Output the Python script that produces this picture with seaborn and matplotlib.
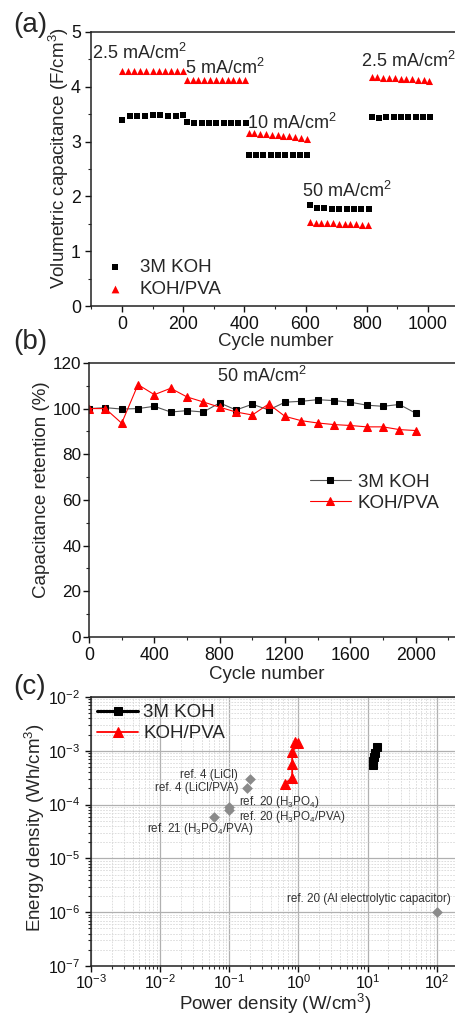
import numpy as np
import matplotlib
matplotlib.use("Agg")
import matplotlib.pyplot as plt
import matplotlib.ticker as mticker
import seaborn as sns

# ===== (a) rate capability =====
cyc_koh = [0, 25, 50, 75, 100, 125, 150, 175, 200,
           212, 236, 260, 284, 308, 332, 356, 380, 404,
           414, 438, 462, 486, 510, 534, 558, 582, 606,
           614, 638, 662, 686, 710, 734, 758, 782, 806,
           816, 840, 864, 888, 912, 936, 960, 984, 1006]
cap_koh = [3.40, 3.46, 3.47, 3.47, 3.48, 3.48, 3.47, 3.47, 3.48,
           3.35, 3.34, 3.34, 3.34, 3.34, 3.34, 3.34, 3.34, 3.34,
           2.75, 2.75, 2.75, 2.75, 2.75, 2.76, 2.76, 2.76, 2.76,
           1.85, 1.79, 1.78, 1.77, 1.77, 1.77, 1.77, 1.77, 1.77,
           3.45, 3.43, 3.44, 3.45, 3.44, 3.44, 3.44, 3.44, 3.44]

cyc_pva = [0, 20, 40, 60, 80, 100, 120, 140, 160, 180, 200,
           212, 231, 250, 269, 288, 307, 326, 345, 364, 383, 402,
           414, 433, 452, 471, 490, 509, 528, 547, 566, 585, 604,
           614, 633, 652, 671, 690, 709, 728, 747, 766, 785, 804,
           816, 835, 854, 873, 892, 911, 930, 949, 968, 987, 1004]
cap_pva = [4.29, 4.29, 4.29, 4.29, 4.29, 4.29, 4.29, 4.29, 4.29, 4.29, 4.29,
           4.13, 4.13, 4.13, 4.13, 4.13, 4.13, 4.13, 4.13, 4.13, 4.13, 4.13,
           3.16, 3.15, 3.14, 3.13, 3.12, 3.12, 3.11, 3.10, 3.09, 3.07, 3.04,
           1.53, 1.52, 1.52, 1.51, 1.51, 1.50, 1.50, 1.49, 1.49, 1.48, 1.47,
           4.17, 4.17, 4.16, 4.16, 4.16, 4.15, 4.15, 4.14, 4.12, 4.12, 4.10]

rate_labels = ["2.5 mA/cm$^2$", "5 mA/cm$^2$", "10 mA/cm$^2$", "50 mA/cm$^2$", "2.5 mA/cm$^2$"]
rate_x = [-97, 207, 410, 590, 782]
rate_y = [4.62, 4.34, 3.34, 2.10, 4.47]

# ===== (b) cycling at 50 mA/cm2 =====
cyc_b = [0, 100, 200, 300, 400, 500, 600, 700, 800, 900, 1000,
         1100, 1200, 1300, 1400, 1500, 1600, 1700, 1800, 1900, 2000]
ret_koh = [100.0, 100.4, 99.8, 100.0, 101.0, 98.5, 99.1, 98.5, 102.5, 99.4, 101.9,
           99.4, 102.8, 103.2, 103.9, 103.5, 102.8, 101.5, 101.0, 101.8, 98.0]
ret_pva = [100.0, 100.0, 93.6, 110.5, 106.1, 108.9, 105.1, 102.9, 100.6, 98.5, 97.2,
           102.0, 96.6, 94.7, 93.7, 93.0, 92.6, 92.0, 92.0, 90.8, 90.4]
b_ticks = [0, 400, 800, 1200, 1600, 2000]

# ===== (c) Ragone =====
pow_koh = [11.8, 12.0, 12.3, 12.6, 13.7]
en_koh = [5.5e-4, 6.5e-4, 7.6e-4, 9.2e-4, 1.19e-3]
pow_pva = [0.63, 0.81, 0.81, 0.81, 0.97, 0.90]
en_pva = [2.45e-4, 3.1e-4, 5.7e-4, 9.4e-4, 1.40e-3, 1.48e-3]

ref_pow = [0.20, 0.18, 0.10, 0.10, 0.06, 100.0]
ref_en = [3.0e-4, 2.0e-4, 9.0e-5, 8.0e-5, 6.0e-5, 1.0e-6]
ref_text = ["ref. 4 (LiCl)", "ref. 4 (LiCl/PVA)", "ref. 20 (H$_3$PO$_4$)",
            "ref. 20 (H$_3$PO$_4$/PVA)", "ref. 21 (H$_3$PO$_4$/PVA)",
            "ref. 20 (Al electrolytic capacitor)"]
ref_tx = [0.133, 0.137, 0.136, 0.136, 0.0064, 0.68]
ref_ty = [3.6e-4, 2.06e-4, 1.12e-4, 6.0e-5, 3.5e-5, 1.78e-6]
ref_ha = ["right", "right", "left", "left", "left", "left"]
c_xticks = [1e-3, 1e-2, 1e-1, 1e0, 1e1, 1e2]

# ======================
# style
# ======================
sns.set_theme(style="ticks")
plt.rcParams["font.family"] = ["Liberation Sans", "DejaVu Sans"]
plt.rcParams["mathtext.default"] = "regular"
plt.rcParams["axes.linewidth"] = 1.1
plt.rcParams["xtick.direction"] = "out"
plt.rcParams["ytick.direction"] = "out"

RED = "#ff0000"
TICK_FS = 12.8
LAB_FS = 13.5
LEG_FS = 13.5
fig = plt.figure(figsize=(4.56, 10.18), dpi=100)


def style_ticks(ax, size=TICK_FS):
    ax.tick_params(which="major", length=4, width=1.0, labelsize=size, colors="#111111")
    ax.tick_params(which="minor", length=2.2, width=0.8)
    for s in ax.spines.values():
        s.set_color("#222222")


# ---------- (a) ----------
ax1 = fig.add_axes([0.2004, 0.6994, 0.805, 0.2692])
sns.scatterplot(x=cyc_koh, y=cap_koh, marker="s", color="black", s=20,
                linewidth=0, label="3M KOH", ax=ax1)
sns.scatterplot(x=cyc_pva, y=cap_pva, marker="^", color=RED, s=26,
                linewidth=0, label="KOH/PVA", ax=ax1)
for t, x, y in zip(rate_labels, rate_x, rate_y):
    ax1.text(x, y, t, fontsize=13, va="center", ha="left")
ax1.set_xlim(-100, 1100)
ax1.set_ylim(0, 5)
ax1.set_xticks([0, 200, 400, 600, 800, 1000])
ax1.xaxis.set_minor_locator(mticker.MultipleLocator(100))
ax1.yaxis.set_major_locator(mticker.MultipleLocator(1))
ax1.yaxis.set_minor_locator(mticker.MultipleLocator(0.5))
ax1.set_xlabel("Cycle number", fontsize=LAB_FS)
ax1.set_ylabel("Volumetric capacitance (F/cm$^3$)", fontsize=LAB_FS)
ax1.xaxis.set_label_coords(0.503, -0.097)
ax1.yaxis.set_label_coords(-0.055, 0.54)
ax1.legend(loc="center left", bbox_to_anchor=(0.04, 0.10), frameon=False,
           fontsize=LEG_FS, handlelength=1.0, handletextpad=0.8, labelspacing=0.25,
           borderpad=0, borderaxespad=0, markerscale=1.1)
style_ticks(ax1)

# ---------- (b) ----------
ax2 = fig.add_axes([0.1952, 0.3743, 0.8596, 0.2692])
sns.lineplot(x=cyc_b, y=ret_koh, color="#555555", lw=0.8, marker="s",
             markersize=5, markerfacecolor="black", markeredgecolor="black",
             label="3M KOH", ax=ax2)
sns.lineplot(x=cyc_b, y=ret_pva, color=RED, lw=0.8, marker="^",
             markersize=6, markerfacecolor=RED, markeredgecolor=RED,
             label="KOH/PVA", ax=ax2)
ax2.text(1060, 114.2, "50 mA/cm$^2$", fontsize=13, ha="center", va="center")
ax2.set_xlim(0, 2400)
ax2.set_ylim(0, 120)
ax2.set_xticks(b_ticks)
ax2.xaxis.set_minor_locator(mticker.MultipleLocator(200))
ax2.yaxis.set_major_locator(mticker.MultipleLocator(20))
ax2.yaxis.set_minor_locator(mticker.MultipleLocator(10))
ax2.set_xlabel("Cycle number", fontsize=LAB_FS)
ax2.set_ylabel("Capacitance retention (%)", fontsize=LAB_FS)
ax2.xaxis.set_label_coords(0.454, -0.106)
ax2.yaxis.set_label_coords(-0.1, 0.536)
ax2.legend(loc="center left", bbox_to_anchor=(0.563, 0.526), frameon=False,
           fontsize=LEG_FS, handlelength=2.2, handletextpad=0.35, labelspacing=0.2,
           borderpad=0, borderaxespad=0, markerscale=0.85)
style_ticks(ax2)
ax2.tick_params(axis="y", which="major", pad=1.5, labelsize=12.3)

# ---------- (c) ----------
ax3 = fig.add_axes([0.1996, 0.0511, 0.910, 0.2642])
ax3.set_xscale("log")
ax3.set_yscale("log")
ax3.set_xlim(1e-3, 1e3)
ax3.set_ylim(1e-7, 1e-2)
ax3.xaxis.set_major_locator(mticker.FixedLocator(c_xticks))
ax3.xaxis.set_minor_locator(mticker.LogLocator(base=10, subs=np.arange(2, 10), numticks=20))
ax3.yaxis.set_minor_locator(mticker.LogLocator(base=10, subs=np.arange(2, 10), numticks=20))
ax3.xaxis.set_major_formatter(mticker.LogFormatterSciNotation())
ax3.xaxis.set_minor_formatter(mticker.NullFormatter())
ax3.yaxis.set_minor_formatter(mticker.NullFormatter())
ax3.grid(which="minor", color="#d8d8d8", lw=0.6, ls=(0, (2, 1.5)))
ax3.grid(which="major", color="#b0b0b0", lw=0.9)
ax3.set_axisbelow(True)
sns.scatterplot(x=ref_pow, y=ref_en, marker="D", color="#8a8a8a", s=30,
                linewidth=0, ax=ax3, zorder=3)
for t, x, y, ha in zip(ref_text, ref_tx, ref_ty, ref_ha):
    ax3.text(x, y, t, fontsize=8.4, ha=ha, va="center", color="#333333")
sns.lineplot(x=pow_koh, y=en_koh, color="black", lw=2.2, marker="s",
             markersize=6, markeredgecolor="black", sort=False, estimator=None,
             label="3M KOH", ax=ax3, zorder=4)
sns.lineplot(x=pow_pva, y=en_pva, color=RED, lw=1.3, marker="^",
             markersize=7, markeredgecolor=RED, sort=False, estimator=None,
             label="KOH/PVA", ax=ax3, zorder=4)
ax3.set_xlabel("Power density (W/cm$^3$)", fontsize=LAB_FS)
ax3.set_ylabel("Energy density (Wh/cm$^3$)", fontsize=LAB_FS)
ax3.xaxis.set_label_coords(0.443, -0.097)
ax3.yaxis.set_label_coords(-0.106, 0.513)
ax3.legend(loc="center left", bbox_to_anchor=(0.0145, 0.903), frameon=False,
           fontsize=LEG_FS, handlelength=2.2, handletextpad=0.27, labelspacing=0.2,
           borderpad=0, borderaxespad=0)
style_ticks(ax3, size=11.5)
ax3.tick_params(axis="x", which="major", pad=1.5)

# ---------- panel labels ----------
fig.text(0.066, 1 - 25 / 1018, "(a)", fontsize=20, ha="center", va="center")
fig.text(0.066, 1 - 342 / 1018, "(b)", fontsize=20, ha="center", va="center")
fig.text(0.064, 1 - 687 / 1018, "(c)", fontsize=20, ha="center", va="center")

fig.savefig("out.png", dpi=100)
